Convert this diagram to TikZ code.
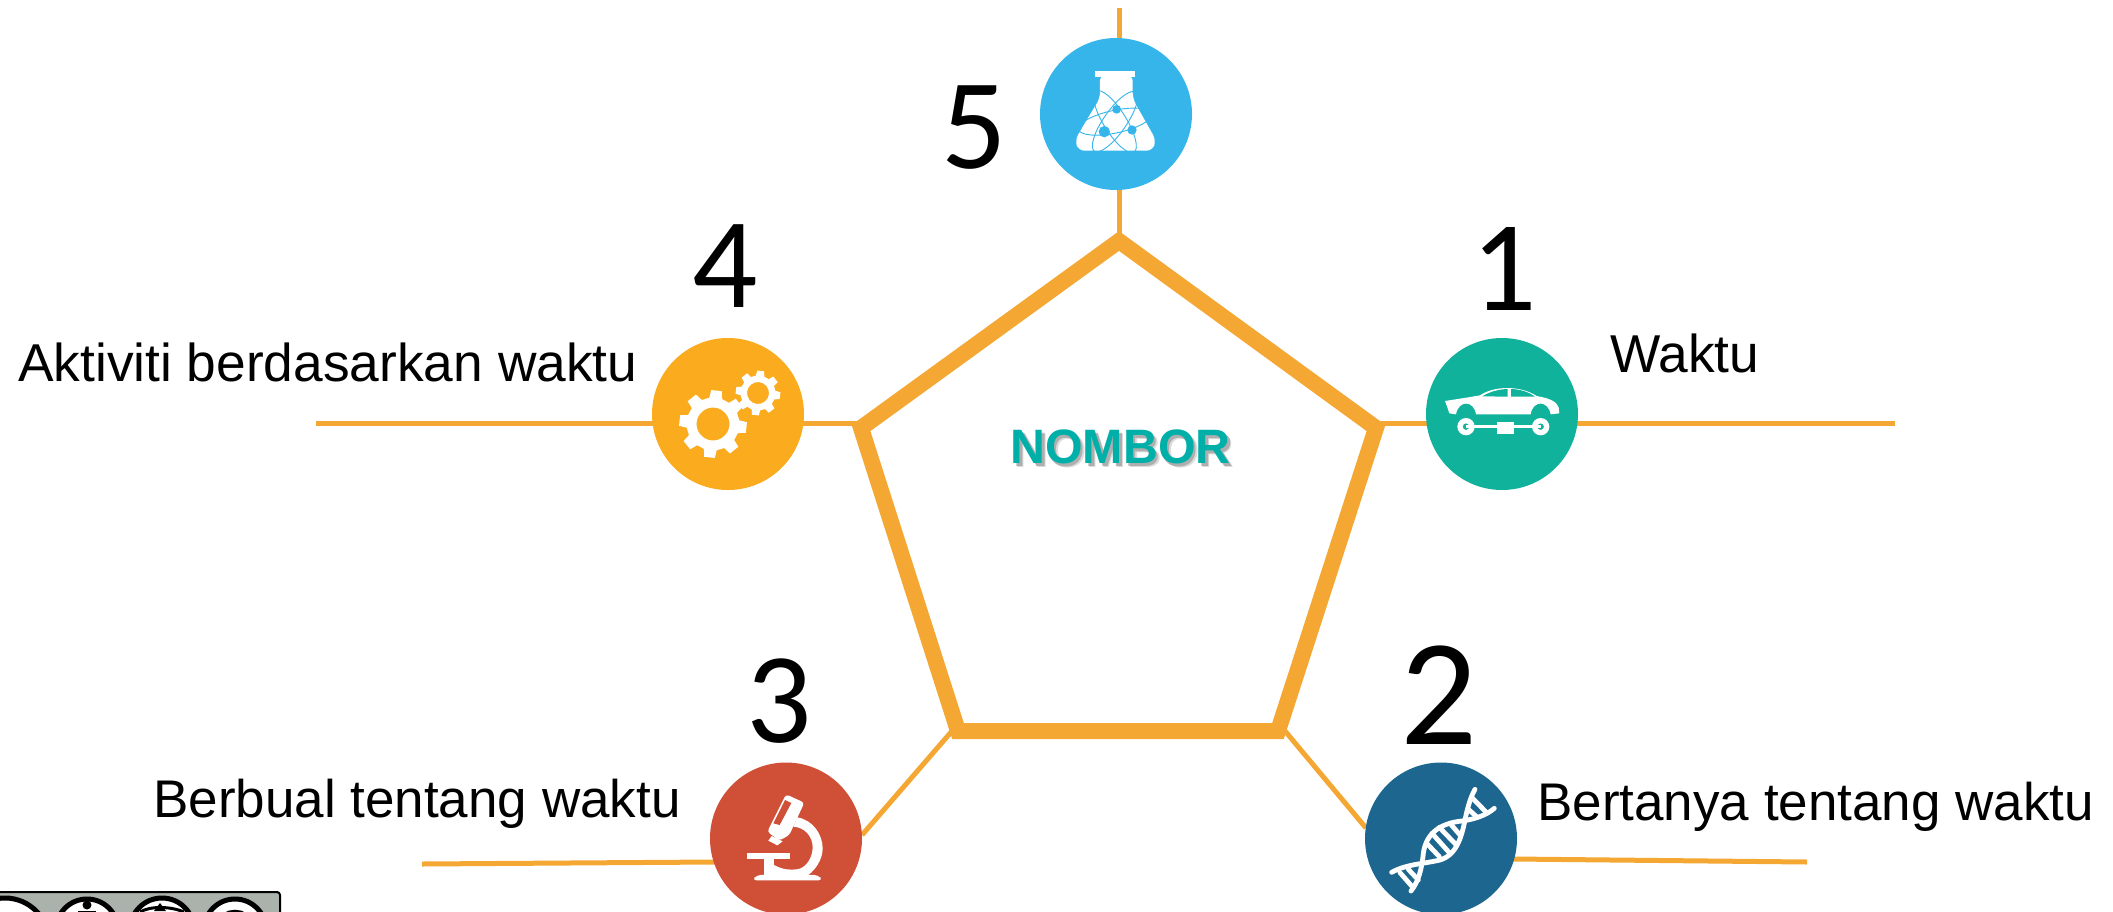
\documentclass[tikz,border=0pt]{standalone}
\usepackage{fontspec}
\setmainfont{Liberation Sans}
\newfontfamily\numfont{Carlito}
\usetikzlibrary{backgrounds,calc}
\definecolor{lineor}{HTML}{F4A833}
\definecolor{tealc}{HTML}{10B29B}
\definecolor{bluec}{HTML}{35B5EA}
\definecolor{gearc}{HTML}{FAAB1E}
\definecolor{redc}{HTML}{CF4F37}
\definecolor{navyc}{HTML}{1C668F}
\definecolor{titlec}{HTML}{00B0A8}
\definecolor{badge}{HTML}{AAB2AB}
\tikzset{
  hub/.style={circle,minimum size=152pt,inner sep=0pt,outer sep=0pt},
  wire/.style={draw=lineor,line width=5pt},
  penta/.style={draw=lineor,line width=16pt,miter limit=10},
  lab/.style={anchor=base west,inner sep=0pt,font=\fontsize{53.3}{60}\selectfont},
  labb/.style={anchor=base west,inner sep=0pt,font=\fontsize{53}{60}\selectfont},
  num/.style={anchor=base,inner sep=0pt,font=\numfont\fontsize{129}{140}\selectfont},
  bignum/.style={anchor=base,inner sep=0pt,font=\numfont\fontsize{152}{160}\selectfont},
  zoomed/.style 2 args={shift={(#1,#2)},x=0.3333pt,y=-0.3333pt},
}
\newcommand{\gearshape}[6]{%
  \begin{scope}[shift={(#1,#2)},rotate=#6]
    \fill[white,even odd rule]
      (-9:#3) \foreach \k in {0,...,7}{
        -- ({\k*45-9}:#3) -- ({\k*45+9}:#3) -- ({\k*45+14}:#4) -- ({\k*45+31}:#4)
      } -- cycle (0,0) circle (#5);
  \end{scope}}
\begin{document}
\begin{tikzpicture}[x=1pt,y=-1pt]
\useasboundingbox (0,0) rectangle (2113,911);
\clip (0,0) rectangle (2113,911);
% pentagon vertices and free ends
\coordinate (vt) at (1119,241);
\coordinate (vr) at (1376,428);
\coordinate (vb) at (1278,731);
\coordinate (va) at (958,731);
\coordinate (vl) at (861,428);
\coordinate (topend) at (1119,8);
\coordinate (jt) at (1119,236);
\coordinate (jl) at (860,423.5);
\coordinate (jr) at (1379,423.5);
\coordinate (leftend) at (316,423.5);
\coordinate (rightend) at (1895,423.5);
\coordinate (ll) at (422,864);
\coordinate (lr) at (1807,862);
\coordinate (ja) at (952,731);
\coordinate (jb) at (1285,731);
\coordinate (e3) at (862,835);
\coordinate (e2) at (1366,828);
\coordinate (e3l) at (715,862);
\coordinate (e2r) at (1513,859);
% hubs
\node[hub,fill=bluec] (h5) at (1116,114) {};
\node[hub,fill=gearc] (h4) at (728,414) {};
\node[hub,fill=tealc] (h1) at (1502,414) {};
\node[hub,fill=redc] (h3) at (786,838.5) {};
\node[hub,fill=navyc] (h2) at (1441,838.5) {};
\begin{scope}[on background layer]
  \draw[wire] (topend) -- (jt);
  \draw[wire] (leftend) -- (jl);
  \draw[wire] (jr) -- (rightend);
  \draw[wire] (ja) -- (e3);
  \draw[wire] (jb) -- (e2);
  \draw[wire] (ll) -- (e3l);
  \draw[wire] (e2r) -- (lr);
\end{scope}
\draw[penta] (vt) -- (vr) -- (vb) -- (va) -- (vl) -- cycle;
% flask icon
\begin{scope}[zoomed={950}{0}]
  \fill[white] (435,212) rectangle (555,230);
  \fill[white,rounded corners=6pt] (450,225) -- (450,295) -- (425,335) -- (375,420) -- (385,452) -- (608,452) -- (618,420) -- (567,330) -- (548,295) -- (548,225) -- cycle;
  \begin{scope}[draw=bluec,line width=0.9pt]
    \draw[rotate around={12:(495,365)}] (495,365) ellipse (112 and 34);
    \draw[rotate around={55:(495,365)}] (495,365) ellipse (108 and 34);
    \draw[rotate around={122:(495,365)}] (495,365) ellipse (108 and 34);
  \end{scope}
  \fill[bluec] (500,328) circle (13) (463,395) circle (17) (546,390) circle (14);
\end{scope}
% gears
\gearshape{713}{424}{34}{26.5}{16.5}{-6}
\gearshape{758}{393}{22.5}{17.5}{11}{-7}
% car icon
\begin{scope}[zoomed={1400}{320}]
  \fill[white] (135,243) -- (205,232) -- (240,226) .. controls (280,198) and (360,195) .. (410,228) .. controls (450,235) and (470,245) .. (476,262) -- (478,280) -- (452,283) .. controls (445,240) and (398,240) .. (392,283) -- (228,283) .. controls (222,240) and (175,240) .. (168,283) -- (148,280) -- (142,262) -- cycle;
  \fill[tealc] (247,229) .. controls (270,215) and (295,208) .. (323,207) -- (323,230) -- cycle;
  \fill[tealc] (333,207) .. controls (360,208) and (385,215) .. (405,230) -- (333,230) -- cycle;
  \draw[white,line width=3pt] (198,320) -- (422,320);
  \fill[white] (290,305) rectangle (342,342);
  \fill[white,even odd rule] (198,320) circle (26) circle (10);
  \fill[white,even odd rule] (422,320) circle (26) circle (10);
\end{scope}
% microscope icon
\begin{scope}[zoomed={690}{740}]
  \fill[white,rounded corners=3pt] (288,163) -- (343,188) -- (298,285) -- (268,302) -- (232,275) -- cycle;
  \fill[redc] (285,180) -- (304,189) -- (269,255) -- (250,250) -- cycle;
  \fill[white] (245,288) -- (278,304) -- (262,316) -- (235,302) -- cycle;
  \fill[white] (322,232) .. controls (370,240) and (398,285) .. (398,325) .. controls (398,360) and (375,390) .. (355,405) -- (222,405) -- (222,357) -- (252,357) -- (252,375) .. controls (280,390) and (300,390) .. (320,388) .. controls (350,385) and (368,350) .. (368,322) .. controls (368,290) and (345,262) .. (310,260) -- cycle;
  \fill[white] (170,340) rectangle (300,357);
  \fill[white,rounded corners=4pt] (187,421) -- (200,405) -- (385,405) -- (398,421) -- cycle;
\end{scope}
% dna icon
\begin{scope}[zoomed={1340}{740}]
  \begin{scope}[draw=white,line width=4.8pt,line cap=round]
    \draw (155,397) .. controls (200,372) and (250,372) .. (300,360) .. controls (350,345) and (365,290) .. (375,240) .. controls (382,205) and (392,170) .. (405,148);
    \draw (213,453) .. controls (235,425) and (245,390) .. (250,340) .. controls (258,280) and (300,250) .. (365,243) .. controls (405,238) and (440,225) .. (463,205);
    \draw (180,398) -- (215,438);
    \draw (205,388) -- (235,420);
    \draw (262,312) -- (298,350);
    \draw (276,280) -- (328,338);
    \draw (298,262) -- (350,316);
    \draw (330,250) -- (360,285);
    \draw (385,208) -- (412,232);
    \draw (398,175) -- (440,218);
  \end{scope}
\end{scope}
% title
\node[inner sep=0pt,text=black!45,font=\bfseries\fontsize{48.3}{50}\selectfont,opacity=.3] (tshadow2) at (1124.5,451) {NOMBOR};
\node[inner sep=0pt,text=black!50,font=\bfseries\fontsize{48.3}{50}\selectfont,opacity=.5] (tshadow) at (1123,449.5) {NOMBOR};
\node[inner sep=0pt,text=titlec,font=\bfseries\fontsize{48.3}{50}\selectfont] (title) at (1120.5,447) {NOMBOR};
% labels
\node[lab] (t1) at (1610,372) {Waktu};
\node[labb] (t2) at (1537,820) {Bertanya tentang waktu};
\node[labb] (t3) at (153,817) {Berbual tentang waktu};
\node[lab] (t4) at (18,381) {Aktiviti berdasarkan waktu};
\node[num] (n1) at (1504,310) {1};
\node[bignum] (n2) at (1439,744) {2};
\node[num] (n3) at (779,742) {3};
\node[num] (n4) at (725,307) {4};
\node[num] (n5) at (974,168) {5};
% licence badge
\draw[fill=badge,draw=black,line width=2pt,rounded corners=3pt] (-8,892) rectangle (280,930);
\draw[fill=white,draw=black,line width=5pt] (5,942) circle (44);
\draw[fill=white,draw=black,line width=5pt] (87,930) circle (31);
\draw[fill=white,draw=black,line width=5pt] (162,930) circle (32);
\draw[fill=white,draw=black,line width=5pt] (235,930) circle (31);
\fill[black] (87,905) circle (4.5);
\fill[black] (78,911) rectangle (96,920);
\draw[black,line width=3pt] (140,912) .. controls (150,906) and (170,906) .. (184,912);
\fill[black] (160,903) -- (166,911) -- (154,911) -- cycle;
\draw[black,line width=5pt] (218,925) .. controls (222,908) and (248,908) .. (252,925);
\end{tikzpicture}
\end{document}
